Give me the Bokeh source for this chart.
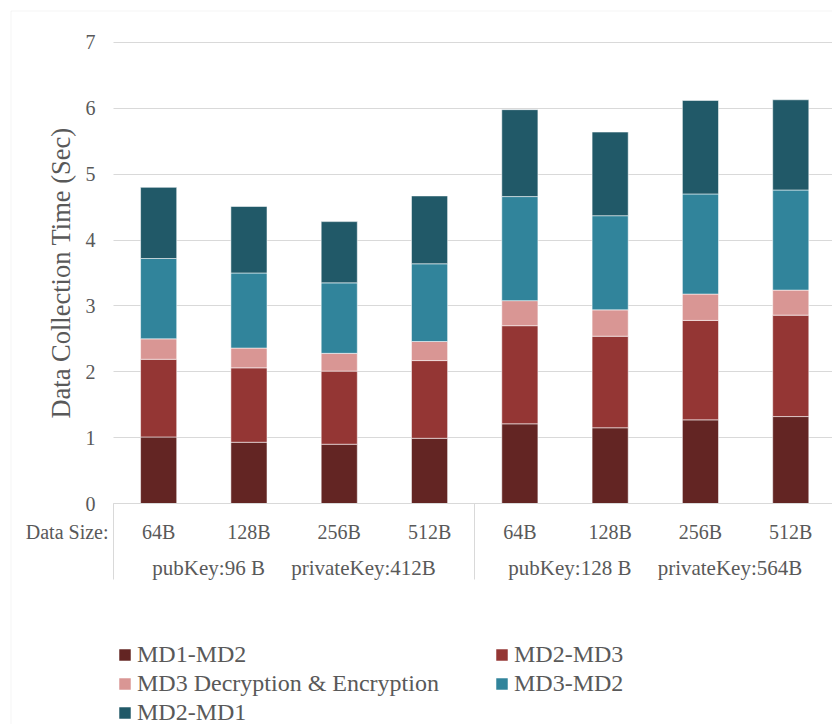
from bokeh.plotting import figure
from bokeh.models import (LinearAxis, FixedTicker, Range1d, BoxAnnotation,
                          ColumnDataSource)
from bokeh.core.properties import value
from bokeh.embed import file_html
from bokeh.resources import INLINE

# Data collection time (seconds) per data size, split by hop / stage
data_sizes = ["64B", "128B", "256B", "512B", "64B", "128B", "256B", "512B"]
pub_keys = ["pubKey:96 B", "pubKey:128 B"]
private_keys = ["privateKey:412B", "privateKey:564B"]

md1_md2 = [1.01, 0.93, 0.90, 0.99, 1.21, 1.15, 1.27, 1.32]
md2_md3 = [1.18, 1.13, 1.11, 1.18, 1.49, 1.39, 1.51, 1.54]
md3_dec_enc = [0.31, 0.30, 0.27, 0.29, 0.38, 0.40, 0.40, 0.38]
md3_md2 = [1.22, 1.14, 1.07, 1.18, 1.58, 1.43, 1.52, 1.52]
md2_md1 = [1.08, 1.01, 0.93, 1.03, 1.32, 1.27, 1.42, 1.37]

series_names = ["MD1-MD2", "MD2-MD3", "MD3 Decryption & Encryption",
                "MD3-MD2", "MD2-MD1"]
series_keys = ["md1_md2", "md2_md3", "md3_dec_enc", "md3_md2", "md2_md1"]
colors = ["#632523", "#943634", "#D99694", "#31849B", "#215968"]

TEXT = "#595959"
GRID = "#D9D9D9"
FONT = "Liberation Serif"

# canvas layout (pixels)
W, H = 832, 724
PLOT_LEFT, PLOT_TOP, BASELINE = 113, 42, 503
X_PX = 90.3     # pixels per category slot
Y_PX = 65.86    # pixels per second


def px_to_x(px):
    return 0.5 + (px - PLOT_LEFT) / X_PX


def px_to_y(py):
    return (BASELINE - py) / Y_PX


xs = [i + 1 for i in range(len(data_sizes))]
per_group = len(data_sizes) // len(pub_keys)
group_centers = [g * per_group + (per_group + 1) / 2 for g in range(len(pub_keys))]
group_edges = [g * per_group + 0.5 for g in range(len(pub_keys))]
x_end_edge = len(data_sizes) + 0.5
group_labels = [pk + "\u00a0" * 5 + sk for pk, sk in zip(pub_keys, private_keys)]
y_ticks = list(range(8))

source = ColumnDataSource(dict(x=xs, md1_md2=md1_md2, md2_md3=md2_md3,
                               md3_dec_enc=md3_dec_enc, md3_md2=md3_md2,
                               md2_md1=md2_md1))

p = figure(width=W, height=H,
           x_range=Range1d(px_to_x(0), px_to_x(W)),
           y_range=Range1d(px_to_y(H), px_to_y(0)),
           output_backend="svg", toolbar_location=None,
           min_border_left=0, min_border_top=0, min_border_right=0,
           min_border_bottom=0)
p.outline_line_color = None

p.vbar_stack(series_keys, x="x", width=0.4, color=colors, line_color="white",
             line_width=0.75, line_alpha=0.7, source=source,
             legend_label=series_names)

# value axis, pinned to the left edge of the bar area
ya = p.yaxis[0]
ya.fixed_location = 0.5
ya.bounds = (0, 7)
ya.ticker = FixedTicker(ticks=y_ticks, minor_ticks=[])
ya.axis_line_color = None
ya.major_tick_line_color = None
ya.major_tick_out = 0
ya.major_tick_in = 0
ya.minor_tick_line_color = None
ya.major_label_standoff = 18
ya.major_label_text_font = FONT
ya.major_label_text_font_size = "20px"
ya.major_label_text_color = TEXT
ya.axis_label = "Data Collection Time (Sec)"
ya.axis_label_text_font = FONT
ya.axis_label_text_font_size = "26.5px"
ya.axis_label_text_font_style = "normal"
ya.axis_label_text_color = TEXT
ya.axis_label_standoff = 7

p.ygrid.ticker = FixedTicker(ticks=y_ticks, minor_ticks=[])
p.ygrid.grid_line_color = GRID
p.ygrid.cross_bounds = (0.5, x_end_edge)
p.xgrid.visible = False

# data size axis at zero, group separators drawn as long minor ticks
xa = p.xaxis[0]
xa.fixed_location = 0
xa.bounds = (0.5, x_end_edge)
xa.ticker = FixedTicker(ticks=xs, minor_ticks=group_edges)
xa.major_label_overrides = {x: s for x, s in zip(xs, data_sizes)}
xa.major_tick_out = 0
xa.major_tick_in = 0
xa.minor_tick_in = 0
xa.minor_tick_out = 76
xa.minor_tick_line_color = GRID
xa.axis_line_color = GRID
xa.major_label_standoff = -59
xa.major_label_text_font = FONT
xa.major_label_text_font_size = "20px"
xa.major_label_text_color = TEXT

# key sizes for each group of four bars
ga = LinearAxis(fixed_location=0, bounds=(0.5, x_end_edge),
                ticker=FixedTicker(ticks=group_centers, minor_ticks=[]),
                major_label_overrides={x: s for x, s in zip(group_centers, group_labels)},
                axis_line_color=None, major_tick_line_color=None,
                major_tick_out=0, major_tick_in=0,
                minor_tick_line_color=None, major_label_standoff=52,
                major_label_text_font=FONT, major_label_text_font_size="21px",
                major_label_text_color=TEXT)
p.add_layout(ga, "below")

p.text(x=[0.5], y=[0], text=["Data Size:"], x_offset=-5, y_offset=28.5,
       text_align="right", text_baseline="middle", text_font=value(FONT),
       text_font_size="20px", text_color=TEXT)

# chart area border
p.add_layout(BoxAnnotation(left=px_to_x(10.5), right=px_to_x(W + 50),
                           top=px_to_y(10.5), bottom=px_to_y(H + 50),
                           fill_color=None, line_color=GRID, line_width=1))

leg = p.legend[0]
leg.location = (117, -1.5)
leg.orientation = "horizontal"
leg.ncols = 2
leg.border_line_color = None
leg.background_fill_alpha = 0
leg.padding = 0
leg.margin = 0
leg.spacing = 2
leg.glyph_width = 15
leg.glyph_height = 15
leg.label_standoff = 5
leg.label_width = 355
leg.label_height = 20
leg.label_text_font = FONT
leg.label_text_font_size = "24px"
leg.label_text_color = TEXT

open("out.html", "w").write(file_html(p, INLINE))
